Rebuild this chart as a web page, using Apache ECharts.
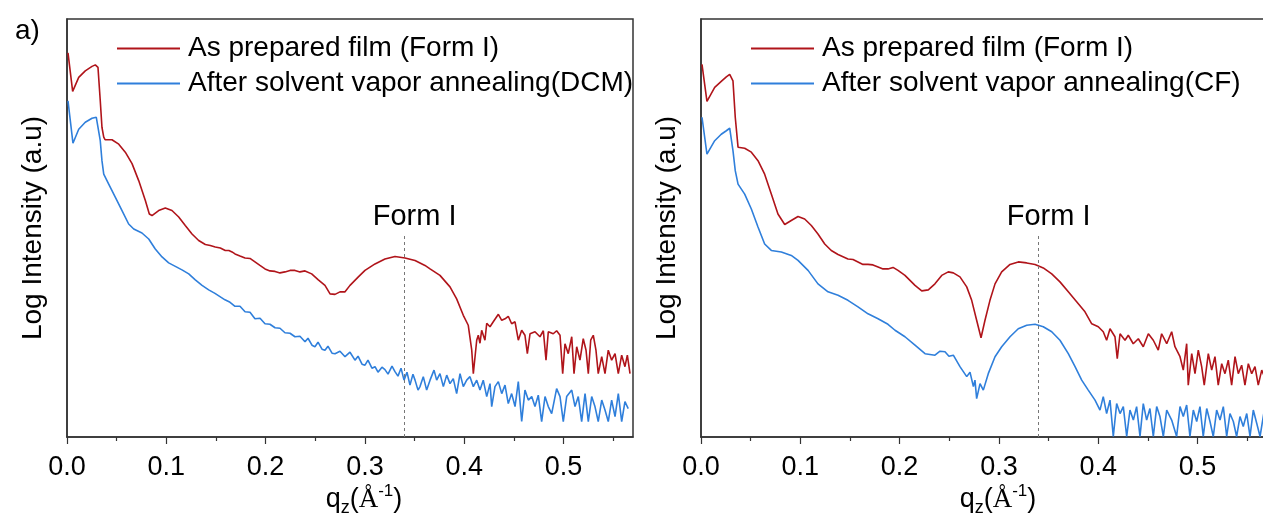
<!DOCTYPE html>
<html>
<head>
<meta charset="utf-8">
<script src="https://cdn.jsdelivr.net/npm/echarts@6/dist/echarts.min.js"></script>
<style>
html,body{margin:0;padding:0;background:#fff;}
#c{width:1263px;height:514px;}
</style>
</head>
<body>
<div id="c"></div>
<script>
// ---- data (q_z in 1/Å, log intensity in arbitrary units) ----
const xTicks = [0, 0.1, 0.2, 0.3, 0.4, 0.5];
const xMinorTicks = [0.05, 0.15, 0.25, 0.35, 0.45, 0.55];
const formIPeak = 0.34;
const legendLeft = ['As prepared film (Form I)', 'After solvent vapor annealing(DCM)'];
const legendRight = ['As prepared film (Form I)', 'After solvent vapor annealing(CF)'];

const dcmAsPrepared = [[0.001,7.70],[0.0057,6.93],[0.0118,7.21],[0.0184,7.34],[0.0252,7.43],[0.0285,7.46],[0.0312,7.41],[0.0335,6.74],[0.0352,6.21],[0.0370,6.01],[0.0383,5.96],[0.0453,5.96],[0.0521,5.87],[0.0587,5.71],[0.0655,5.48],[0.0722,5.14],[0.0789,4.74],[0.0829,4.47],[0.0856,4.44],[0.0923,4.54],[0.0990,4.59],[0.1057,4.54],[0.1125,4.41],[0.1191,4.24],[0.1259,4.07],[0.1326,3.94],[0.1393,3.86],[0.1443,3.84],[0.1493,3.81],[0.1544,3.79],[0.1594,3.74],[0.1630,3.74],[0.1662,3.71],[0.1692,3.67],[0.1742,3.63],[0.1793,3.59],[0.1843,3.58],[0.1893,3.51],[0.1943,3.44],[0.1994,3.37],[0.2044,3.33],[0.2095,3.32],[0.2145,3.29],[0.2195,3.31],[0.2246,3.34],[0.2296,3.34],[0.2346,3.31],[0.2397,3.33],[0.2464,3.27],[0.2531,3.15],[0.2598,3.04],[0.2649,2.87],[0.2699,2.86],[0.2749,2.91],[0.2800,2.91],[0.2850,3.04],[0.2934,3.21],[0.3001,3.34],[0.3102,3.47],[0.3202,3.57],[0.3303,3.62],[0.3404,3.59],[0.3505,3.54],[0.3605,3.44],[0.3656,3.37],[0.3756,3.24],[0.3857,3.01],[0.3924,2.77],[0.3991,2.44],[0.4041,2.24],[0.4076,1.74],[0.4092,1.27],[0.4126,1.94],[0.4142,2.04],[0.4159,1.88],[0.4176,2.14],[0.4209,1.94],[0.4227,2.28],[0.4260,2.21],[0.4293,2.31],[0.4344,2.46],[0.4378,2.34],[0.4411,2.37],[0.4444,2.42],[0.4478,2.27],[0.4512,2.31],[0.4545,1.94],[0.4579,2.14],[0.4612,2.04],[0.4636,1.67],[0.4663,2.07],[0.4713,2.11],[0.4763,2.01],[0.4797,2.13],[0.4824,1.54],[0.4847,2.11],[0.4897,2.07],[0.4931,2.13],[0.4965,2.04],[0.4992,1.27],[0.5015,1.87],[0.5048,1.67],[0.5083,2.01],[0.5106,1.27],[0.5133,1.81],[0.5166,1.54],[0.5199,1.97],[0.5227,1.74],[0.5250,1.27],[0.5274,1.94],[0.5300,2.04],[0.5327,1.74],[0.5350,1.27],[0.5385,1.61],[0.5418,1.27],[0.5451,1.74],[0.5485,1.54],[0.5519,1.67],[0.5552,1.27],[0.5586,1.64],[0.5619,1.41],[0.5643,1.64],[0.5670,1.27]];

const dcmAnnealed = [[0.001,6.74],[0.0060,5.89],[0.0118,6.17],[0.0184,6.31],[0.0252,6.39],[0.0295,6.41],[0.0335,5.94],[0.0352,5.54],[0.0370,5.27],[0.0420,5.07],[0.0486,4.81],[0.0554,4.54],[0.0621,4.27],[0.0672,4.17],[0.0755,4.09],[0.0823,3.97],[0.0889,3.77],[0.0957,3.61],[0.1024,3.49],[0.1091,3.42],[0.1158,3.35],[0.1226,3.27],[0.1292,3.15],[0.1360,3.04],[0.1427,2.95],[0.1490,2.88],[0.1591,2.75],[0.1642,2.70],[0.1692,2.62],[0.1742,2.62],[0.1793,2.51],[0.1843,2.50],[0.1893,2.37],[0.1944,2.38],[0.1994,2.27],[0.2044,2.26],[0.2095,2.19],[0.2145,2.18],[0.2195,2.09],[0.2246,2.08],[0.2296,2.01],[0.2346,2.02],[0.2397,1.91],[0.2427,1.98],[0.2467,1.84],[0.2497,1.81],[0.2528,1.90],[0.2568,1.76],[0.2598,1.74],[0.2628,1.82],[0.2669,1.68],[0.2699,1.67],[0.2749,1.72],[0.2800,1.61],[0.2850,1.70],[0.2900,1.54],[0.2931,1.62],[0.2971,1.46],[0.3001,1.44],[0.3031,1.54],[0.3071,1.38],[0.3102,1.41],[0.3132,1.30],[0.3172,1.40],[0.3202,1.35],[0.3233,1.26],[0.3273,1.42],[0.3303,1.31],[0.3333,1.22],[0.3364,1.38],[0.3394,1.14],[0.3424,1.30],[0.3454,1.04],[0.3484,1.26],[0.3505,1.14],[0.3535,0.94],[0.3555,1.01],[0.3588,1.21],[0.3622,0.94],[0.3656,1.14],[0.3696,1.34],[0.3723,1.14],[0.3756,1.27],[0.3790,1.01],[0.3824,1.24],[0.3857,1.07],[0.3890,1.17],[0.3924,0.87],[0.3958,1.27],[0.3991,1.01],[0.4025,1.14],[0.4058,1.21],[0.4092,1.01],[0.4126,1.14],[0.4159,0.94],[0.4192,1.14],[0.4227,0.81],[0.4260,1.07],[0.4277,0.61],[0.4310,1.01],[0.4344,1.11],[0.4378,0.87],[0.4411,1.04],[0.4444,0.67],[0.4478,0.87],[0.4512,0.61],[0.4545,1.11],[0.4579,0.31],[0.4612,0.94],[0.4646,0.74],[0.4680,0.81],[0.4713,0.61],[0.4746,0.84],[0.4780,0.31],[0.4814,0.81],[0.4847,0.61],[0.4881,0.47],[0.4931,0.97],[0.4965,0.81],[0.4998,0.31],[0.5032,0.81],[0.5083,0.94],[0.5116,0.61],[0.5149,0.81],[0.5183,0.31],[0.5217,0.87],[0.5250,0.31],[0.5284,0.81],[0.5317,0.61],[0.5350,0.31],[0.5385,0.74],[0.5418,0.54],[0.5451,0.31],[0.5485,0.74],[0.5519,0.41],[0.5552,0.87],[0.5586,0.31],[0.5619,0.71],[0.5652,0.57]];

const cfAsPrepared = [[0.001,7.47],[0.0060,6.73],[0.0138,7.01],[0.0204,7.13],[0.0255,7.22],[0.0289,7.27],[0.0322,7.14],[0.0345,6.41],[0.0373,5.81],[0.0440,5.79],[0.0507,5.71],[0.0574,5.54],[0.0641,5.27],[0.0708,4.87],[0.0775,4.47],[0.0843,4.26],[0.0909,4.34],[0.0977,4.42],[0.1044,4.37],[0.1111,4.24],[0.1178,4.07],[0.1246,3.87],[0.1312,3.74],[0.1380,3.66],[0.1480,3.57],[0.1531,3.56],[0.1581,3.51],[0.1631,3.46],[0.1682,3.46],[0.1732,3.45],[0.1783,3.41],[0.1833,3.37],[0.1883,3.37],[0.1934,3.40],[0.1984,3.34],[0.2054,3.24],[0.2155,3.04],[0.2223,2.93],[0.2289,2.95],[0.2356,3.07],[0.2424,3.24],[0.2490,3.31],[0.2541,3.29],[0.2608,3.21],[0.2676,3.01],[0.2726,2.74],[0.2776,2.34],[0.2820,1.99],[0.2860,2.34],[0.2910,2.74],[0.2961,3.07],[0.3028,3.31],[0.3112,3.46],[0.3195,3.51],[0.3280,3.49],[0.3364,3.46],[0.3447,3.39],[0.3532,3.27],[0.3615,3.11],[0.3699,2.91],[0.3783,2.71],[0.3867,2.51],[0.3935,2.27],[0.4001,2.21],[0.4051,2.11],[0.4085,1.94],[0.4119,2.17],[0.4169,2.01],[0.4192,1.57],[0.4220,2.07],[0.4270,1.94],[0.4303,2.04],[0.4353,1.87],[0.4404,1.97],[0.4454,1.81],[0.4505,2.07],[0.4555,1.94],[0.4605,1.74],[0.4639,2.07],[0.4690,1.87],[0.4740,2.11],[0.4773,1.81],[0.4824,1.61],[0.4857,1.34],[0.4891,1.87],[0.4907,1.04],[0.4942,1.67],[0.4975,1.27],[0.5008,1.74],[0.5042,1.41],[0.5068,1.04],[0.5109,1.67],[0.5143,1.34],[0.5176,1.61],[0.5209,1.04],[0.5244,1.47],[0.5277,1.27],[0.5310,1.54],[0.5344,1.04],[0.5378,1.61],[0.5411,1.27],[0.5445,1.44],[0.5478,1.04],[0.5512,1.47],[0.5546,1.27],[0.5579,1.41],[0.5612,1.04],[0.5647,1.34],[0.5680,1.18]];

const cfAnnealed = [[0.001,6.41],[0.0060,5.67],[0.0138,5.94],[0.0204,6.07],[0.0255,6.14],[0.0289,6.19],[0.0322,5.74],[0.0345,5.34],[0.0373,5.07],[0.0440,4.87],[0.0507,4.57],[0.0574,4.21],[0.0641,3.87],[0.0708,3.74],[0.0809,3.71],[0.0909,3.64],[0.0977,3.54],[0.1078,3.34],[0.1178,3.07],[0.1279,2.91],[0.1380,2.84],[0.1480,2.74],[0.1581,2.61],[0.1682,2.47],[0.1783,2.37],[0.1883,2.26],[0.1954,2.14],[0.2054,2.01],[0.2155,1.84],[0.2256,1.67],[0.2356,1.64],[0.2407,1.72],[0.2457,1.71],[0.2497,1.62],[0.2541,1.64],[0.2608,1.41],[0.2676,1.21],[0.2709,1.30],[0.2743,1.01],[0.2759,1.14],[0.2776,0.77],[0.2810,1.07],[0.2843,0.94],[0.2893,1.27],[0.2961,1.61],[0.3028,1.81],[0.3112,2.01],[0.3195,2.17],[0.3280,2.24],[0.3364,2.26],[0.3447,2.21],[0.3532,2.11],[0.3615,1.94],[0.3699,1.67],[0.3767,1.41],[0.3834,1.14],[0.3900,0.94],[0.3968,0.74],[0.4018,0.54],[0.4051,0.81],[0.4085,0.47],[0.4119,0.74],[0.4152,0.01],[0.4186,0.67],[0.4220,0.47],[0.4253,0.61],[0.4287,0.01],[0.4320,0.54],[0.4354,0.34],[0.4387,0.61],[0.4421,0.01],[0.4454,0.67],[0.4488,0.34],[0.4521,0.57],[0.4555,0.01],[0.4589,0.61],[0.4622,0.41],[0.4656,0.01],[0.4690,0.54],[0.4740,0.34],[0.4790,0.01],[0.4824,0.61],[0.4857,0.41],[0.4891,0.64],[0.4924,0.01],[0.4958,0.54],[0.4992,0.31],[0.5025,0.61],[0.5058,0.01],[0.5093,0.57],[0.5126,0.31],[0.5159,0.01],[0.5193,0.54],[0.5227,0.34],[0.5260,0.61],[0.5294,0.01],[0.5327,0.47],[0.5361,0.31],[0.5394,0.01],[0.5428,0.41],[0.5461,0.21],[0.5496,0.47],[0.5529,0.01],[0.5562,0.54],[0.5597,0.27],[0.5630,0.01],[0.5670,0.50]];

// ---- styling ----
const RED = '#B0141A';
const BLUE = '#2F7FDB';
const FONT = '"Liberation Sans", Arial, sans-serif';
const AXC = '#333';
const Y_MAX = 8.38;
const X_MAX = 0.57;

function xAxesFor(gridIndex) {
  return [
    {
      gridIndex, type: 'value', min: 0, max: X_MAX,
      name: '{q|q}{sub|z}{p|(}{a|Å}{sup|-1}{p|)}',
      nameLocation: 'middle', nameGap: 46, nameMoveOverlap: false,
      nameTextStyle: {
        padding: [0, 0, 0, 28],
        rich: {
          q: {fontSize: 27, fontFamily: FONT, color: '#000', lineHeight: 34},
          p: {fontSize: 27, fontFamily: FONT, color: '#000', lineHeight: 34},
          a: {fontSize: 27, fontFamily: '"Liberation Serif", serif', color: '#000', lineHeight: 34},
          sub: {fontSize: 18, fontFamily: FONT, color: '#000', lineHeight: 18, verticalAlign: 'bottom'},
          sup: {fontSize: 17, fontFamily: FONT, color: '#000', lineHeight: 18, verticalAlign: 'top'}
        }
      },
      axisLine: {show: true, onZero: false, lineStyle: {color: AXC, width: 1.5}},
      axisTick: {show: true, inside: false, length: 7, customValues: xTicks, lineStyle: {color: AXC, width: 1.2}},
      axisLabel: {show: true, margin: 17, customValues: xTicks, fontSize: 27, fontFamily: FONT, color: '#000',
        formatter: v => v.toFixed(1)},
      splitLine: {show: false}
    },
    {
      gridIndex, type: 'value', min: 0, max: X_MAX, position: 'bottom',
      axisLine: {show: false},
      axisTick: {show: true, inside: false, length: 4, customValues: xMinorTicks, lineStyle: {color: AXC, width: 1.2}},
      axisLabel: {show: false},
      splitLine: {show: false}
    }
  ];
}
function yAxisFor(gridIndex) {
  return {
    gridIndex, type: 'value', min: 0, max: Y_MAX,
    name: 'Log Intensity (a.u)', nameLocation: 'middle', nameGap: 20, nameMoveOverlap: false,
    nameTextStyle: {fontSize: 28, fontFamily: FONT, color: '#000'},
    axisLine: {show: true, lineStyle: {color: AXC, width: 1.5}},
    axisTick: {show: false}, axisLabel: {show: false}, splitLine: {show: false}
  };
}
function markFor(text) {
  return {
    silent: true, symbol: 'none',
    lineStyle: {color: '#777', width: 1, type: [3, 3]},
    label: {show: true, position: 'end', formatter: text, fontSize: 29, fontFamily: FONT, color: '#000', distance: 2, offset: [10, 0]},
    data: [[{coord: [formIPeak, 0]}, {coord: [formIPeak, 4.08]}]]
  };
}
function line(name, data, color, xi, yi, mark) {
  const s = {name, type: 'line', data, xAxisIndex: xi, yAxisIndex: yi, symbol: 'none', showSymbol: false,
    lineStyle: {color, width: 1.6}, itemStyle: {color}, emphasis: {disabled: true}, z: 3};
  if (mark) s.markLine = mark;
  return s;
}
function legendFor(left, names) {
  return {
    orient: 'vertical', left, top: 28, itemWidth: 63, itemHeight: 2, itemGap: 4, icon: 'rect',
    data: names, selectedMode: false,
    textStyle: {fontSize: 28, fontFamily: FONT, color: '#000', lineHeight: 31, padding: [0, 0, 0, 3]}
  };
}

const chart = echarts.init(document.getElementById('c'), null, {renderer: 'canvas'});
chart.setOption({
  animation: false,
  backgroundColor: '#fff',
  grid: [
    {left: 67, top: 19, width: 566, height: 418, show: true, borderColor: AXC, borderWidth: 1.5, containLabel: false, outerBoundsMode: 'none'},
    {left: 701, top: 19, width: 566, height: 418, show: true, borderColor: AXC, borderWidth: 1.5, containLabel: false, outerBoundsMode: 'none'}
  ],
  xAxis: [...xAxesFor(0), ...xAxesFor(1)],
  yAxis: [yAxisFor(0), yAxisFor(1)],
  legend: [legendFor(112, legendLeft), legendFor(746, legendRight)],
  graphic: [{type: 'text', left: 15, top: 17, style: {text: 'a)', fontSize: 28, fontFamily: FONT, fill: '#000'}}],
  series: [
    line(legendLeft[0], dcmAsPrepared, RED, 0, 0, markFor('Form I')),
    line(legendLeft[1], dcmAnnealed, BLUE, 0, 0),
    line(legendRight[0], cfAsPrepared, RED, 2, 1, markFor('Form I')),
    line(legendRight[1], cfAnnealed, BLUE, 2, 1)
  ]
});
</script>
</body>
</html>
